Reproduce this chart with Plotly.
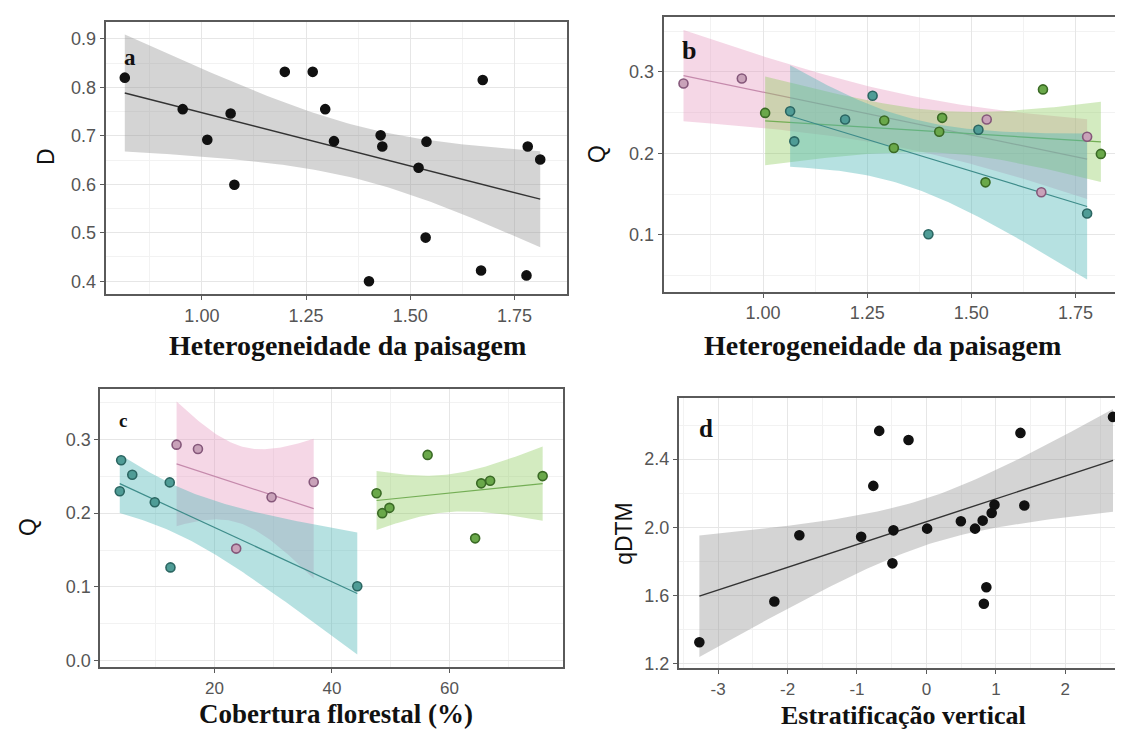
import numpy as np
import plotly.graph_objects as go

# ---------------- data ----------------
# panel a: landscape heterogeneity vs D
het_a = [0.815, 0.954, 1.013, 1.069, 1.078, 1.199, 1.266, 1.296, 1.317, 1.401,
         1.429, 1.433, 1.520, 1.539, 1.537, 1.674, 1.670, 1.782, 1.779, 1.812]
D_a = [0.820, 0.755, 0.692, 0.746, 0.599, 0.832, 0.832, 0.755, 0.689, 0.400,
       0.701, 0.678, 0.634, 0.688, 0.490, 0.815, 0.422, 0.678, 0.412, 0.651]

# panel b: heterogeneity vs Q, by group
het_pink = [0.809, 0.949, 1.537, 1.668, 1.778]
Q_b_pink = [0.2858, 0.2919, 0.2416, 0.1523, 0.2205]
het_teal = [1.065, 1.075, 1.197, 1.263, 1.397, 1.517, 1.778]
Q_b_teal = [0.2517, 0.2148, 0.2416, 0.2708, 0.1008, 0.2290, 0.1264]
het_green = [1.005, 1.291, 1.314, 1.423, 1.430, 1.534, 1.672, 1.811]
Q_b_green = [0.2497, 0.2404, 0.2067, 0.2266, 0.2436, 0.1645, 0.2785, 0.1994]

# panel c: forest cover (%) vs Q, by group
cov_pink = [13.56, 17.20, 23.71, 29.73, 36.90]
Q_c_pink = [0.2928, 0.2870, 0.1520, 0.2215, 0.2422]
cov_teal = [4.13, 3.89, 6.02, 9.85, 12.40, 12.52, 44.32]
Q_c_teal = [0.2717, 0.2296, 0.2520, 0.2148, 0.2417, 0.1265, 0.1009]
cov_green = [47.60, 48.57, 49.79, 56.29, 64.38, 65.41, 66.93, 75.87]
Q_c_green = [0.2269, 0.2000, 0.2072, 0.2789, 0.1659, 0.2404, 0.2439, 0.2502]

# panel d: vertical stratification vs qDTM
strat_d = [-3.27, -2.19, -1.83, -0.94, -0.765, -0.68, -0.475, -0.49, -0.258, 0.01,
           0.496, 0.70, 0.81, 0.94, 0.98, 0.863, 0.827, 1.354, 1.41, 2.687]
qdtm_d = [1.325, 1.564, 1.953, 1.944, 2.243, 2.566, 1.982, 1.788, 2.512, 1.992,
          2.035, 1.992, 2.039, 2.084, 2.132, 1.648, 1.551, 2.554, 2.128, 2.648]

# tick labels
ticks_het = [1.00, 1.25, 1.50, 1.75]
ticks_het_txt = ["1.00", "1.25", "1.50", "1.75"]
ticks_D = [0.4, 0.5, 0.6, 0.7, 0.8, 0.9]
ticks_Qb = [0.1, 0.2, 0.3]
ticks_Qc = [0.0, 0.1, 0.2, 0.3]
ticks_cov = [20, 40, 60]
ticks_strat = [-3, -2, -1, 0, 1, 2]
ticks_strat_txt = ["-3", "-2", "-1", "0", "1", "2"]
ticks_qdtm = [1.2, 1.6, 2.0, 2.4]

# ---------------- helpers ----------------
Z975 = 1.959964


def lm_band(x, y, n=80):
    x = np.asarray(x, float)
    y = np.asarray(y, float)
    b1, b0 = np.polyfit(x, y, 1)
    xs = np.linspace(x.min(), x.max(), n)
    fit = b0 + b1 * xs
    dfree = len(x) - 2
    s = np.sqrt(np.sum((y - (b0 + b1 * x)) ** 2) / dfree)
    sxx = np.sum((x - x.mean()) ** 2)
    se = s * np.sqrt(1 / len(x) + (xs - x.mean()) ** 2 / sxx)
    return xs, fit, fit - Z975 * se, fit + Z975 * se


W, H = 1123, 729
fig = go.Figure()

GREY_FILL = "rgba(153,153,153,0.42)"
GROUPS = {
    "pink": dict(fill="rgba(231,160,196,0.42)", line="#C58AAC",
                 pt="#C9A2B9", edge="#85577A"),
    "teal": dict(fill="rgba(80,184,184,0.42)", line="#3E8C8A",
                 pt="#4F9C96", edge="#2B6662"),
    "green": dict(fill="rgba(140,203,90,0.38)", line="#74AE55",
                  pt="#6AA84A", edge="#3A6A25"),
}


def add_smooth(x, y, ax, fillc, linec, lw=1.4):
    xs, fit, lo, hi = lm_band(x, y)
    fig.add_trace(go.Scatter(
        x=np.concatenate([xs, xs[::-1]]), y=np.concatenate([hi, lo[::-1]]),
        fill="toself", fillcolor=fillc, line=dict(width=0), mode="lines",
        hoverinfo="skip", showlegend=False, xaxis="x" + ax, yaxis="y" + ax))
    fig.add_trace(go.Scatter(
        x=xs, y=fit, mode="lines", line=dict(color=linec, width=lw),
        showlegend=False, xaxis="x" + ax, yaxis="y" + ax))


def add_points(x, y, ax, fillc, edgec, size=10):
    fig.add_trace(go.Scatter(
        x=x, y=y, mode="markers",
        marker=dict(size=size, color=fillc, line=dict(color=edgec, width=1.6)),
        showlegend=False, xaxis="x" + ax, yaxis="y" + ax))


# panel a
add_smooth(het_a, D_a, "", GREY_FILL, "#333333")
add_points(het_a, D_a, "", "#111111", "#111111", 9)

# panel b
b_sets = [("pink", het_pink, Q_b_pink), ("green", het_green, Q_b_green),
          ("teal", het_teal, Q_b_teal)]
for g, x, y in b_sets:
    add_smooth(x, y, "2", GROUPS[g]["fill"], GROUPS[g]["line"], 1.2)
for g, x, y in b_sets:
    add_points(x, y, "2", GROUPS[g]["pt"], GROUPS[g]["edge"], 9)

# panel c
c_sets = [("pink", cov_pink, Q_c_pink), ("teal", cov_teal, Q_c_teal),
          ("green", cov_green, Q_c_green)]
for g, x, y in c_sets:
    add_smooth(x, y, "3", GROUPS[g]["fill"], GROUPS[g]["line"], 1.2)
for g, x, y in c_sets:
    add_points(x, y, "3", GROUPS[g]["pt"], GROUPS[g]["edge"], 9)

# panel d
add_smooth(strat_d, qdtm_d, "4", GREY_FILL, "#333333")
add_points(strat_d, qdtm_d, "4", "#111111", "#111111", 9)


# ---------------- axes ----------------
def axis(domain, rng, tickvals, ticktext, minor, mirror=True, anchor=None,
         fsize=18):
    d = dict(domain=domain, range=rng, tickmode="array", tickvals=tickvals,
             ticktext=ticktext, showline=True, linecolor="#5A5A5A", linewidth=1.6,
             mirror=mirror, ticks="outside", ticklen=4, tickwidth=1.2,
             tickcolor="#5A5A5A", showgrid=True, gridcolor="#E6E6E6", gridwidth=1,
             zeroline=False,
             minor=dict(showgrid=True, gridcolor="#F2F2F2", gridwidth=0.8,
                        tickmode="linear", tick0=0, dtick=minor, ticks=""),
             tickfont=dict(family="Liberation Sans, Arial, sans-serif", size=fsize,
                           color="#555555"))
    if anchor:
        d["anchor"] = anchor
    return d


def px(v):
    return v / W


def py(v):
    return 1 - v / H


def fmt(vals, f):
    return [format(v, f) for v in vals]


fig.update_layout(
    width=W, height=H, margin=dict(l=0, r=0, t=0, b=0),
    paper_bgcolor="white", plot_bgcolor="white", showlegend=False,
    xaxis=axis([px(97.5), px(558.9)], [0.7687, 1.876], ticks_het, ticks_het_txt,
               0.125, anchor="y"),
    yaxis=axis([py(288.3), py(14)], [0.373, 0.935], ticks_D, fmt(ticks_D, ".1f"),
               0.05, anchor="x"),
    xaxis2=axis([px(655.5), px(1111.2)], [0.761, 1.855], ticks_het, ticks_het_txt,
                0.125, anchor="y2"),
    yaxis2=axis([py(286), py(9.3)], [0.030, 0.367], ticks_Qb, fmt(ticks_Qb, ".1f"),
                0.05, anchor="x2"),
    xaxis3=axis([px(92.1), px(555.4)], [0.545, 79.4], ticks_cov,
                [str(v) for v in ticks_cov], 10, anchor="y3", fsize=17),
    yaxis3=axis([py(664), py(384)], [-0.009, 0.3677], ticks_Qc, fmt(ticks_Qc, ".1f"),
                0.05, anchor="x3"),
    xaxis4=axis([px(670.6), 1.0], [-3.569, 2.946], ticks_strat, ticks_strat_txt,
                0.5, anchor="y4", fsize=17),
    yaxis4=axis([py(665), py(392.7)], [1.171, 2.759], ticks_qdtm,
                fmt(ticks_qdtm, ".1f"), 0.2, mirror=False, anchor="x4"),
)

# ---------------- text ----------------
SERIF = "Liberation Serif, Times New Roman, serif"
SANS = "Liberation Sans, Arial, sans-serif"
ann = []


def text(t, x, y, size, family, angle=0, color="#111111"):
    ann.append(dict(text=t, x=px(x), y=py(y), xref="paper", yref="paper",
                    showarrow=False, xanchor="center", yanchor="middle",
                    textangle=angle, font=dict(family=family, size=size, color=color)))


text("<b>Heterogeneidade da paisagem</b>", 339, 340, 28, SERIF)
text("<b>Heterogeneidade da paisagem</b>", 874, 340, 28, SERIF)
text("<b>Cobertura florestal (%)</b>", 328, 711, 27, SERIF)
text("<b>Estratificação vertical</b>", 895, 712, 26, SERIF)

text("D", 38, 150, 23, SANS, -90)
text("Q", 589, 147, 23, SANS, -90)
text("Q", 20.5, 523, 23, SANS, -90)
text("qDTM", 616.5, 529, 23, SANS, -90)

text("<b>a</b>", 121.5, 50, 23, SERIF)
text("<b>b</b>", 680.5, 43, 26, SERIF)
text("<b>c</b>", 115, 415, 19, SERIF)
text("<b>d</b>", 697.5, 423, 25, SERIF)

fig.update_layout(annotations=ann)
fig.write_html("out.html")
